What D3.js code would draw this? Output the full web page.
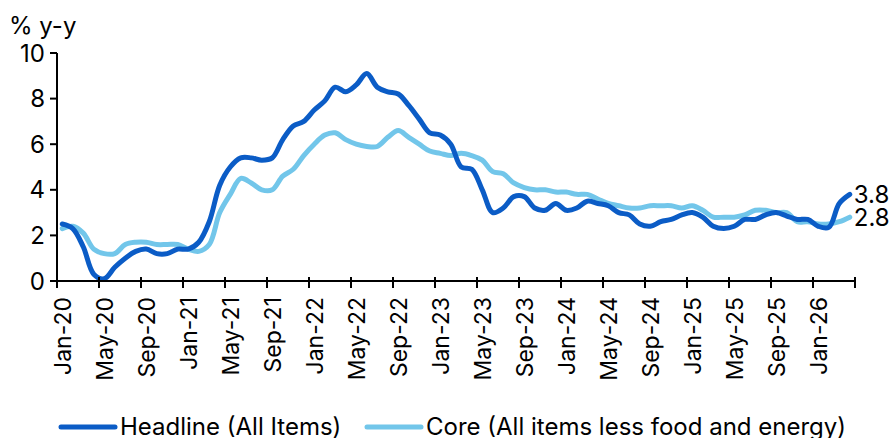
<!DOCTYPE html>
<html>
<head>
<meta charset="utf-8">
<script src="https://cdn.jsdelivr.net/npm/d3@7"></script>
<style>
  body { margin: 0; background: #fff; }
  svg { display: block; font-family: Inter, "Noto Sans", sans-serif; }
</style>
</head>
<body>
<svg id="chart" width="890" height="438"></svg>
<script>
// monthly, Jan-20 .. Apr-26
const months = d3.utcMonth.range(new Date(Date.UTC(2020, 0, 1)), new Date(Date.UTC(2026, 4, 1)))

const headline = [
  2.5, 2.3, 1.5, 0.3, 0.1, 0.6, 1.0, 1.3, 1.4, 1.2, 1.2, 1.4,
  1.4, 1.7, 2.6, 4.2, 5.0, 5.4, 5.4, 5.3, 5.4, 6.2, 6.8, 7.0,
  7.5, 7.9, 8.5, 8.3, 8.6, 9.1, 8.5, 8.3, 8.2, 7.7, 7.1, 6.5,
  6.4, 6.0, 5.0, 4.9, 4.0, 3.0, 3.2, 3.7, 3.7, 3.2, 3.1, 3.4,
  3.1, 3.2, 3.5, 3.4, 3.3, 3.0, 2.9, 2.5, 2.4, 2.6, 2.7, 2.9,
  3.0, 2.8, 2.4, 2.3, 2.4, 2.7, 2.7, 2.9, 3.0, 2.85, 2.7, 2.7,
  2.4, 2.35, 3.4, 3.8
]

const core = [
  2.3, 2.4, 2.1, 1.4, 1.2, 1.2, 1.6, 1.7, 1.7, 1.6, 1.6, 1.6,
  1.4, 1.3, 1.6, 3.0, 3.8, 4.5, 4.3, 4.0, 4.0, 4.6, 4.9, 5.5,
  6.0, 6.4, 6.5, 6.2, 6.0, 5.9, 5.9, 6.3, 6.6, 6.3, 6.0, 5.7,
  5.6, 5.5, 5.6, 5.5, 5.3, 4.8, 4.7, 4.3, 4.1, 4.0, 4.0, 3.9,
  3.9, 3.8, 3.8, 3.6, 3.4, 3.3, 3.2, 3.2, 3.3, 3.3, 3.3, 3.2,
  3.3, 3.1, 2.8, 2.8, 2.8, 2.9, 3.1, 3.1, 3.0, 3.0, 2.6, 2.6,
  2.5, 2.5, 2.6, 2.8
]

const yTicks = [0, 2, 4, 6, 8, 10]
const xTickLabels = ["Jan-20","May-20","Sep-20","Jan-21","May-21","Sep-21","Jan-22","May-22","Sep-22",
  "Jan-23","May-23","Sep-23","Jan-24","May-24","Sep-24","Jan-25","May-25","Sep-25","Jan-26"]

const series = [
  { name: "Headline (All Items)", values: headline, color: "#0b5cc6" },
  { name: "Core (All items less food and energy)", values: core, color: "#72c6ea" }
]

const svg = d3.select("#chart")
const mLeft = 57, mRight = 855, mTop = 53, mBottom = 281

const x = d3.scaleBand().domain(d3.range(months.length)).range([mLeft, mRight]).padding(0)
const y = d3.scaleLinear().domain([0, 10]).range([mBottom, mTop])
const fmt = d3.utcFormat("%b-%y")
const cx = i => x(i) + x.bandwidth() / 2

// lines
const line = d3.line()
  .x((d, i) => cx(i))
  .y(d => y(d))
  .curve(d3.curveCatmullRom.alpha(0.5))

series.slice().reverse().forEach(s => {
  svg.append("path")
    .datum(s.values)
    .attr("fill", "none")
    .attr("stroke", s.color)
    .attr("stroke-width", 5)
    .attr("stroke-linejoin", "round")
    .attr("stroke-linecap", "round")
    .attr("d", line)
})

// y axis
const yAxis = svg.append("g").attr("transform", `translate(${mLeft},0)`)
yAxis.append("line")
  .attr("x1", 0).attr("x2", 0).attr("y1", mTop).attr("y2", mBottom)
  .attr("stroke", "#000").attr("stroke-width", 2)
yTicks.forEach(t => {
  yAxis.append("line").attr("x1", -7).attr("x2", 0).attr("y1", y(t)).attr("y2", y(t))
    .attr("stroke", "#000").attr("stroke-width", 2)
  yAxis.append("text").attr("x", -12).attr("y", y(t)).attr("dy", "0.36em")
    .attr("text-anchor", "end").attr("font-size", 24).text(t)
})
svg.append("text").attr("x", 9).attr("y", 34).attr("font-size", 24).text("% y-y")

// x axis: ticks at every 4th band boundary, labels centred in the band
const xAxis = svg.append("g")
xAxis.append("line")
  .attr("x1", mLeft).attr("x2", mRight + 1).attr("y1", mBottom).attr("y2", mBottom)
  .attr("stroke", "#000").attr("stroke-width", 2)
const tickIdx = d3.range(0, months.length + 1, 4)
tickIdx.forEach(i => {
  const tx = i < months.length ? x(i) : mRight
  xAxis.append("line").attr("x1", tx).attr("x2", tx).attr("y1", mBottom - 4).attr("y2", mBottom + 7)
    .attr("stroke", "#000").attr("stroke-width", 2)
})
xTickLabels.forEach(lab => {
  const i = months.findIndex(m => fmt(m) === lab)
  xAxis.append("text")
    .attr("transform", `translate(${cx(i) + 8.5},${mBottom + 16}) rotate(-90)`)
    .attr("text-anchor", "end").attr("font-size", 23).text(lab)
})

// end labels
series.forEach(s => {
  const n = s.values.length - 1
  svg.append("text").attr("x", cx(n) + 4).attr("y", y(s.values[n])).attr("dy", "0.36em")
    .attr("font-size", 24).text(s.values[n].toFixed(1))
})

// legend
const legendX = [61, 367]
series.forEach((s, k) => {
  const g = svg.append("g").attr("transform", `translate(${legendX[k]},427)`)
  g.append("line").attr("x1", 0).attr("x2", 54).attr("y1", 0).attr("y2", 0)
    .attr("stroke", s.color).attr("stroke-width", 5).attr("stroke-linecap", "round")
  g.append("text").attr("x", 59).attr("y", 8).attr("font-size", 24).text(s.name)
})
</script>
</body>
</html>
